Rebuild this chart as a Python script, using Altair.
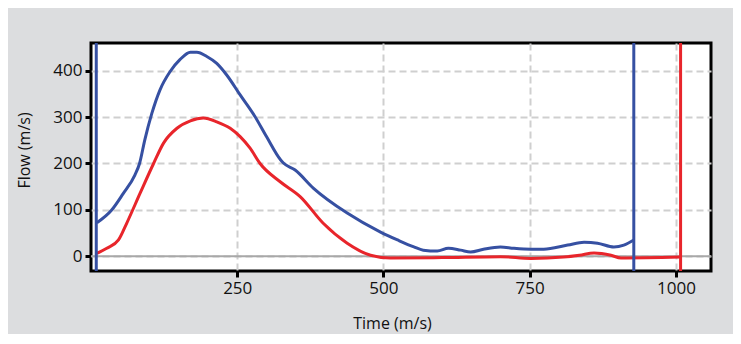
import altair as alt
import pandas as pd

# Blue series
blue_x = [10, 35, 55, 75, 83, 92, 104, 118, 135, 152, 170, 181, 198, 215, 232, 255, 280, 300, 324, 329, 349, 380, 438, 495, 524, 552, 568, 592, 611, 632, 649, 671, 700, 723, 752, 774, 815, 843, 866, 894, 911, 928]
blue_y = [72, 99, 135, 175, 200, 251, 308, 359, 398, 424, 440, 440, 431, 416, 391, 348, 302, 258, 208, 201, 186, 147, 93, 52, 35, 20, 13, 11, 17, 13, 9, 15, 20, 17, 15, 15, 24, 30, 28, 20, 24, 35]

# Red series
red_x = [10, 27, 47, 61, 84, 107, 124, 147, 170, 192, 215, 238, 255, 272, 289, 324, 358, 397, 438, 478, 512, 600, 700, 752, 808, 835, 860, 889, 906, 1008]
red_y = [6, 17, 35, 71, 136, 200, 244, 276, 292, 298, 290, 276, 258, 233, 200, 160, 128, 71, 28, 2, -4, -3, -1, -5, -2, 2, 7, 2, -4, -2]

# Vertical markers
marker_x = [9, 928, 1008]
marker_color = ["#3650a2", "#3650a2", "#e8252b"]

x_ticks = [250, 500, 750, 1000]
y_ticks = [0, 100, 200, 300, 400]

BLUE = "#3650a2"
RED = "#e8252b"
FONT = "Open Sans"

blue_df = pd.DataFrame({"t": blue_x, "v": blue_y})
red_df = pd.DataFrame({"t": red_x, "v": red_y})
marker_df = pd.DataFrame({"t": marker_x, "c": marker_color})
zero_df = pd.DataFrame({"v": [0]})

xscale = alt.Scale(domain=[0, 1060], nice=False, zero=False)
yscale = alt.Scale(domain=[-32, 460], nice=False, zero=False)

xaxis = alt.Axis(values=x_ticks, format="d", title="Time (m/s)", grid=True, gridDash=[7, 4],
                 gridColor="#cfcfcf", gridWidth=2, domain=False, tickColor="#000000",
                 tickWidth=3, tickSize=6, labelFontSize=17, labelColor="#111111",
                 labelFont=FONT, labelPadding=3, titleFont=FONT, titleFontSize=16,
                 titleFontWeight="normal", titleColor="#111111", titlePadding=19, titleX=301)
yaxis = alt.Axis(values=y_ticks, format="d", title="Flow (m/s)", grid=True, gridDash=[7, 4],
                 gridColor="#cfcfcf", gridWidth=2, domain=False, tickColor="#000000",
                 tickWidth=3, tickSize=6, labelFontSize=17, labelColor="#111111",
                 labelFont=FONT, labelPadding=3, titleFont=FONT, titleFontSize=16,
                 titleFontWeight="normal", titleColor="#111111", titlePadding=20, titleY=107)

zero = alt.Chart(zero_df).mark_rule(color="#a8a8a8", strokeWidth=2).encode(
    y=alt.Y("v:Q", scale=yscale, axis=yaxis)
)

blue = alt.Chart(blue_df).mark_line(color=BLUE, strokeWidth=3, interpolate="monotone").encode(
    x=alt.X("t:Q", scale=xscale, axis=xaxis),
    y=alt.Y("v:Q", scale=yscale, axis=yaxis),
)

red = alt.Chart(red_df).mark_line(color=RED, strokeWidth=3, interpolate="monotone").encode(
    x=alt.X("t:Q", scale=xscale, axis=xaxis),
    y=alt.Y("v:Q", scale=yscale, axis=yaxis),
)

markers = alt.Chart(marker_df).mark_rule(strokeWidth=3).encode(
    x=alt.X("t:Q", scale=xscale, axis=xaxis),
    color=alt.Color("c:N", scale=None, legend=None),
)

chart = alt.layer(zero, blue, red, markers).properties(
    width=620,
    height=228,
    background="#dcdddf",
    autosize=alt.AutoSizeParams(type="none"),
    padding={"left": 83, "top": 35, "right": 22, "bottom": 63},
).configure_view(
    stroke="#000000", strokeWidth=3, fill="#ffffff"
)

chart.save("out.html", embed_options={"renderer": "svg", "actions": False})
